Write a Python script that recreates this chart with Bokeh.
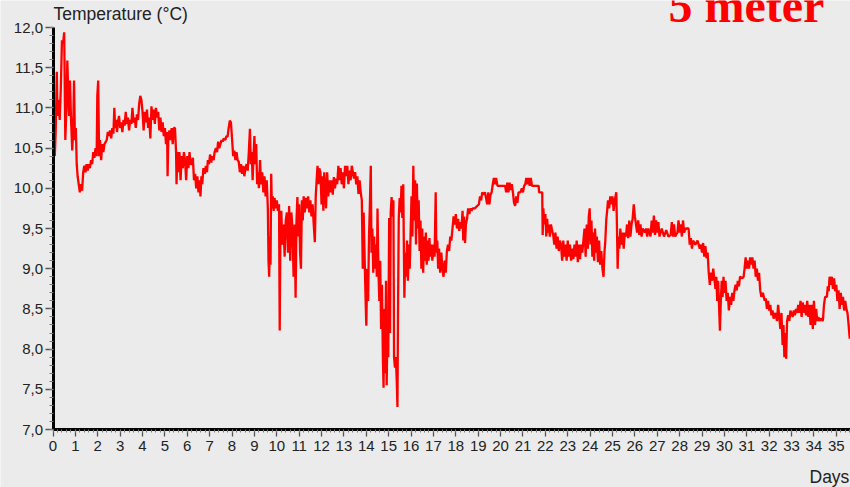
from bokeh.plotting import figure
from bokeh.models import Range1d, FixedTicker, CustomJSTickFormatter, LinearAxis
from bokeh.core.properties import value
from bokeh.embed import file_html
from bokeh.resources import INLINE

# ---- data (days since start, water temperature at 5 m, degC) ----
days_a = [0.00, 0.04, 0.08, 0.12, 0.17, 0.20, 0.25, 0.30, 0.35, 0.40, 0.45, 0.50, 0.55, 0.60, 0.64, 0.68, 0.72, 0.76, 0.80, 0.86,
          0.90, 0.94, 0.98, 1.02, 1.06, 1.10, 1.15, 1.20, 1.25, 1.30, 1.35, 1.40, 1.45, 1.50, 1.55, 1.60, 1.65, 1.70, 1.75, 1.80,
          1.85, 1.90, 1.95, 1.98, 2.02, 2.06, 2.10, 2.15, 2.20, 2.25, 2.30, 2.40, 2.45]
temp_a = [10.20, 10.75, 10.40, 10.70, 11.45, 10.90, 11.10, 10.85, 11.25, 11.84, 11.80, 11.94, 10.60, 11.00, 11.59, 11.20, 10.90, 11.34, 10.90, 10.47,
          10.70, 11.34, 10.60, 10.75, 10.30, 10.15, 10.05, 9.95, 10.05, 9.97, 10.20, 10.28, 10.20, 10.30, 10.22, 10.30, 10.25, 10.35, 10.30, 10.45,
          10.38, 10.50, 10.40, 11.15, 11.34, 10.40, 10.60, 10.35, 10.55, 10.45, 10.55, 10.60, 10.70]

days_b = [2.50, 2.55, 2.60, 2.65, 2.70, 2.74, 2.78, 2.82, 2.86, 2.90, 2.95, 3.00, 3.05, 3.10, 3.15, 3.20, 3.25, 3.30, 3.35, 3.40,
          3.45, 3.50, 3.55, 3.60, 3.65, 3.70, 3.75, 3.80, 3.85, 3.90, 3.95, 4.00, 4.05, 4.10, 4.15, 4.20, 4.25, 4.30, 4.35, 4.40,
          4.45, 4.50, 4.55, 4.60, 4.65, 4.70, 4.75, 4.80, 4.85, 4.90, 4.95, 5.00, 5.05, 5.10, 5.12, 5.15, 5.20, 5.25, 5.30, 5.35,
          5.40, 5.45, 5.50]
temp_b = [10.65, 10.72, 10.62, 10.75, 10.68, 11.00, 10.75, 10.85, 10.70, 10.82, 10.90, 10.75, 10.82, 10.70, 10.85, 10.78, 10.95, 10.80, 10.88, 10.72,
          10.85, 10.80, 11.00, 10.82, 10.88, 10.75, 10.92, 10.85, 11.05, 11.15, 11.10, 10.95, 10.72, 10.95, 10.82, 10.98, 10.75, 10.88, 10.62, 11.02,
          10.85, 10.98, 10.80, 11.00, 10.88, 10.95, 10.72, 10.88, 10.70, 10.82, 10.65, 10.75, 10.55, 10.70, 10.15, 10.60, 10.72, 10.60, 10.75, 10.55,
          10.75, 10.75, 10.45]

days_c = [5.52, 5.56, 5.60, 5.65, 5.70, 5.75, 5.80, 5.85, 5.90, 5.95, 6.00, 6.05, 6.10, 6.15, 6.20, 6.25, 6.30, 6.35, 6.40, 6.45,
          6.50, 6.55, 6.59, 6.63, 6.67, 6.72, 6.78, 6.83, 6.88, 6.92, 6.97, 7.02, 7.07, 7.12, 7.18, 7.22, 7.28, 7.33, 7.38, 7.43,
          7.48, 7.53, 7.58, 7.63, 7.70, 7.75, 7.80, 7.85, 7.90, 7.95, 8.00, 8.05, 8.10, 8.15, 8.20, 8.25, 8.30, 8.35, 8.40, 8.45,
          8.50, 8.55, 8.60, 8.65, 8.70, 8.75, 8.80, 8.84, 8.88, 8.92, 8.96]
temp_c = [10.05, 10.45, 10.20, 10.45, 10.10, 10.40, 10.25, 10.45, 10.35, 10.10, 10.40, 10.25, 10.45, 10.30, 10.30, 10.38, 10.10, 10.18, 10.00, 10.15,
          9.95, 10.10, 9.90, 10.15, 10.05, 10.25, 10.18, 10.28, 10.20, 10.35, 10.30, 10.42, 10.32, 10.40, 10.35, 10.45, 10.50, 10.45, 10.58, 10.50,
          10.55, 10.60, 10.58, 10.62, 10.60, 10.65, 10.64, 10.75, 10.84, 10.82, 10.62, 10.40, 10.47, 10.35, 10.45, 10.35, 10.33, 10.20, 10.30, 10.18,
          10.28, 10.15, 10.25, 10.30, 10.22, 10.45, 10.74, 10.30, 10.45, 10.10, 10.40]

days_d = [9.00, 9.04, 9.08, 9.12, 9.16, 9.20, 9.25, 9.30, 9.35, 9.40, 9.45, 9.50, 9.55, 9.60, 9.63, 9.66, 9.69, 9.72, 9.75, 9.78,
          9.82, 9.86, 9.90, 9.95, 10.00, 10.05, 10.10, 10.13, 10.16, 10.20, 10.25, 10.30, 10.35, 10.40, 10.45, 10.50, 10.55, 10.60, 10.65, 10.70,
          10.75, 10.80, 10.84, 10.88, 10.92, 10.96, 11.00, 11.04, 11.08, 11.12, 11.16, 11.20, 11.25, 11.30, 11.35, 11.40, 11.45, 11.50, 11.55, 11.60,
          11.65, 11.70, 11.74, 11.78, 11.82, 11.86, 11.90, 11.95]
temp_d = [10.65, 10.30, 10.55, 10.05, 10.20, 10.00, 10.35, 10.05, 10.20, 9.95, 10.15, 9.90, 10.10, 9.75, 9.10, 8.90, 9.40, 9.05, 10.18, 9.75,
          9.90, 9.72, 9.88, 9.75, 9.85, 9.72, 9.80, 8.23, 9.40, 9.72, 9.30, 9.55, 9.15, 9.60, 9.70, 9.20, 9.78, 9.10, 9.70, 9.50,
          8.90, 9.55, 8.64, 9.60, 9.89, 9.40, 9.80, 9.20, 9.00, 9.85, 9.60, 9.90, 9.70, 9.88, 9.75, 9.90, 9.70, 9.85, 9.65, 9.80,
          9.55, 9.33, 9.90, 10.10, 10.28, 10.05, 10.25, 10.20]

days_e = [12.00, 12.04, 12.08, 12.12, 12.16, 12.20, 12.25, 12.30, 12.35, 12.40, 12.45, 12.50, 12.55, 12.60, 12.65, 12.70, 12.75, 12.80, 12.85, 12.90,
          12.95, 13.00, 13.05, 13.10, 13.15, 13.20, 13.25, 13.30, 13.35, 13.40, 13.45, 13.50, 13.55, 13.60, 13.65, 13.70, 13.75, 13.80]
temp_e = [9.80, 10.15, 9.72, 10.20, 10.00, 9.75, 10.20, 9.90, 10.10, 9.95, 10.10, 9.92, 10.14, 10.00, 10.12, 10.05, 10.28, 10.10, 10.25, 10.05,
          10.20, 10.00, 10.28, 10.15, 10.28, 10.05, 10.22, 10.10, 10.28, 10.20, 10.12, 10.20, 10.05, 10.15, 9.93, 10.10, 9.95, 9.85]

days_f = [13.84, 13.88, 13.92, 13.96, 14.00, 14.04, 14.08, 14.12, 14.16, 14.20, 14.23, 14.27, 14.31, 14.35, 14.39, 14.43, 14.47, 14.50, 14.54, 14.58,
          14.62, 14.66, 14.70, 14.74, 14.77, 14.80, 14.84, 14.88, 14.91, 14.95, 14.98, 15.02, 15.06, 15.09, 15.13, 15.17, 15.21, 15.24, 15.28, 15.32,
          15.36, 15.39, 15.42, 15.45, 15.49, 15.53, 15.57, 15.61, 15.65, 15.70, 15.74, 15.78, 15.82, 15.86, 15.90, 15.94, 15.98, 16.02, 16.06, 16.10,
          16.14, 16.18, 16.22, 16.26, 16.30, 16.34, 16.38, 16.42, 16.46, 16.50, 16.54, 16.58, 16.62, 16.66, 16.70, 16.74, 16.78, 16.82, 16.86, 16.90,
          16.95, 17.00, 17.05, 17.10, 17.13, 17.17, 17.21, 17.25, 17.30, 17.35, 17.40, 17.45, 17.50, 17.55, 17.60]
temp_f = [9.00, 9.70, 9.20, 8.70, 8.29, 9.00, 8.60, 9.40, 9.80, 10.28, 9.20, 9.50, 8.95, 9.40, 9.00, 9.30, 8.90, 9.75, 9.00, 8.60,
          9.10, 8.25, 8.80, 7.90, 7.52, 8.50, 7.70, 8.85, 7.55, 8.40, 7.90, 9.63, 8.20, 9.70, 9.89, 9.65, 9.85, 7.90, 7.77, 7.90,
          7.60, 7.28, 8.60, 9.63, 9.88, 9.70, 10.03, 9.63, 10.05, 8.64, 9.20, 8.90, 9.35, 8.85, 9.30, 9.00, 9.45, 9.90, 9.40, 10.28,
          9.60, 10.10, 9.30, 10.06, 9.50, 9.85, 9.22, 9.60, 9.00, 9.50, 8.95, 9.40, 9.10, 9.45, 9.05, 9.35, 9.10, 9.38, 9.15, 9.30,
          9.10, 9.30, 9.15, 9.95, 9.20, 9.35, 9.00, 9.25, 8.95, 9.20, 9.00, 8.90, 9.10, 8.95, 9.22]

days_g = [17.65, 17.70, 17.75, 17.80, 17.85, 17.90, 17.95, 18.00, 18.05, 18.10, 18.15, 18.20, 18.25, 18.30, 18.33, 18.37, 18.41, 18.45, 18.50, 18.55,
          18.60, 18.65, 18.70, 18.75, 18.85, 18.95, 19.03, 19.08, 19.13, 19.18, 19.25, 19.30, 19.35, 19.40, 19.45, 19.50, 19.55, 19.60, 19.65, 19.70,
          19.75, 19.80, 19.86, 20.00, 20.10, 20.20, 20.25, 20.30, 20.35, 20.40, 20.45, 20.50, 20.55, 20.60, 20.65, 20.70, 20.75, 20.80, 20.88, 20.95,
          21.00, 21.05, 21.10, 21.15, 21.20, 21.25, 21.30, 21.35, 21.40, 21.55, 21.70, 21.72, 21.86, 21.88, 21.91, 21.95, 22.00, 22.04, 22.08, 22.12,
          22.16, 22.20, 22.25, 22.30, 22.35, 22.40, 22.45, 22.50, 22.55, 22.60, 22.65, 22.70, 22.75, 22.80, 22.85, 22.90, 22.95, 23.00, 23.05, 23.10,
          23.15, 23.20, 23.25, 23.30, 23.35, 23.40, 23.45]
temp_g = [9.30, 9.22, 9.40, 9.35, 9.50, 9.65, 9.55, 9.68, 9.50, 9.62, 9.47, 9.58, 9.50, 9.72, 9.35, 9.65, 9.32, 9.55, 9.62, 9.75,
          9.68, 9.75, 9.72, 9.75, 9.75, 9.78, 9.80, 9.90, 9.85, 9.95, 9.92, 9.95, 9.88, 9.80, 9.95, 9.80, 9.92, 9.95, 10.05, 10.13,
          10.05, 10.13, 10.03, 10.03, 10.03, 10.03, 9.95, 10.07, 9.95, 10.07, 9.98, 10.05, 9.95, 9.82, 9.78, 9.90, 9.82, 9.95, 9.95, 10.00,
          9.95, 10.03, 10.05, 10.13, 10.05, 10.13, 10.03, 10.13, 10.03, 10.03, 10.03, 9.95, 9.95, 9.42, 9.75, 9.55, 9.68, 9.40, 9.62, 9.45,
          9.55, 9.40, 9.55, 9.48, 9.42, 9.30, 9.45, 9.25, 9.40, 9.22, 9.35, 9.30, 9.10, 9.35, 9.15, 9.30, 9.10, 9.35, 9.15, 9.30,
          9.10, 9.25, 9.12, 9.30, 9.15, 9.35, 9.08]

days_h = [23.50, 23.55, 23.60, 23.65, 23.70, 23.75, 23.80, 23.85, 23.90, 23.94, 23.98, 24.02, 24.06, 24.10, 24.14, 24.18, 24.22, 24.26, 24.30, 24.35,
          24.40, 24.45, 24.50, 24.55, 24.60, 24.64, 24.68, 24.72, 24.76, 24.80, 24.85, 24.90, 24.95, 25.00, 25.05, 25.10, 25.17, 25.20, 25.23, 25.27,
          25.31, 25.35, 25.40, 25.45, 25.50, 25.55, 25.60, 25.65, 25.70, 25.75, 25.80, 25.85, 25.90, 25.95, 26.00, 26.05, 26.10, 26.15, 26.20, 26.25,
          26.30, 26.35, 26.45, 26.50, 26.55, 26.60, 26.70, 26.75, 26.80, 26.85, 26.90, 26.95, 27.00, 27.05, 27.10, 27.20, 27.30, 27.40, 27.50, 27.60,
          27.65, 27.70, 27.75, 27.80, 27.90, 27.95, 28.00, 28.05, 28.10, 28.15, 28.20, 28.27, 28.40, 28.45, 28.50, 28.55, 28.60, 28.70, 28.80, 28.90,
          28.95, 29.00, 29.05, 29.10, 29.15, 29.20, 29.25, 29.30, 29.35]
temp_h = [9.30, 9.12, 9.30, 9.20, 9.35, 9.50, 9.15, 9.55, 9.25, 9.65, 9.75, 9.30, 9.60, 9.15, 9.45, 9.10, 9.50, 9.20, 9.40, 9.08,
          9.35, 9.05, 9.22, 9.00, 8.90, 9.20, 9.35, 9.60, 9.72, 9.85, 9.75, 9.90, 9.80, 9.90, 9.72, 9.85, 9.95, 9.50, 9.00, 9.40,
          9.25, 9.50, 9.30, 9.45, 9.25, 9.45, 9.40, 9.55, 9.38, 9.60, 9.40, 9.55, 9.62, 9.80, 9.65, 9.55, 9.45, 9.60, 9.42, 9.55,
          9.40, 9.50, 9.45, 9.50, 9.40, 9.50, 9.40, 9.60, 9.45, 9.66, 9.42, 9.60, 9.45, 9.58, 9.40, 9.50, 9.40, 9.48, 9.40, 9.42,
          9.58, 9.40, 9.55, 9.40, 9.45, 9.60, 9.45, 9.55, 9.40, 9.60, 9.45, 9.50, 9.50, 9.30, 9.38, 9.25, 9.35, 9.30, 9.35, 9.25,
          9.30, 9.20, 9.32, 9.15, 9.28, 9.13, 9.20, 8.95, 8.80]

days_i = [29.40, 29.45, 29.50, 29.55, 29.60, 29.64, 29.68, 29.72, 29.76, 29.80, 29.84, 29.88, 29.92, 29.96, 30.00, 30.05, 30.10, 30.15, 30.20, 30.25,
          30.30, 30.35, 30.40, 30.45, 30.50, 30.55, 30.60, 30.65, 30.70, 30.80, 30.86, 30.90, 30.95, 31.00, 31.05, 31.10, 31.15, 31.20, 31.25, 31.30,
          31.35, 31.40, 31.45, 31.50, 31.55, 31.60, 31.65, 31.72, 31.80, 31.85, 31.90, 31.95, 32.00, 32.05, 32.10, 32.15, 32.20, 32.28, 32.35, 32.40,
          32.45, 32.50, 32.55, 32.60, 32.64, 32.68, 32.72, 32.76, 32.80, 32.85, 32.90, 32.95, 33.05, 33.10, 33.15, 33.20, 33.25, 33.30, 33.35, 33.40,
          33.45, 33.50, 33.55, 33.60, 33.65, 33.70, 33.75, 33.80, 33.85, 33.90, 33.95, 34.00, 34.05, 34.10, 34.15, 34.20, 34.25, 34.30, 34.40, 34.45,
          34.50, 34.58, 34.62, 34.66, 34.70, 34.75, 34.80, 34.85, 34.90, 34.95, 35.00, 35.05, 35.10, 35.15, 35.20, 35.25, 35.30, 35.35, 35.40, 35.45,
          35.50, 35.55, 35.60]
temp_i = [8.95, 8.85, 9.00, 8.88, 8.75, 8.90, 8.60, 8.85, 8.55, 8.23, 8.60, 8.85, 8.65, 8.90, 8.70, 8.85, 8.60, 8.70, 8.48, 8.65,
          8.55, 8.70, 8.60, 8.73, 8.80, 8.73, 8.85, 8.78, 8.90, 8.88, 8.90, 9.00, 9.14, 9.00, 9.10, 9.00, 9.14, 9.05, 9.14, 9.00,
          9.10, 8.90, 9.00, 8.85, 8.95, 8.73, 8.65, 8.70, 8.60, 8.63, 8.50, 8.60, 8.48, 8.55, 8.42, 8.48, 8.38, 8.45, 8.35, 8.55,
          8.40, 8.25, 8.45, 8.05, 8.30, 7.90, 8.20, 7.88, 8.35, 8.42, 8.35, 8.48, 8.40, 8.48, 8.42, 8.50, 8.45, 8.55, 8.45, 8.60,
          8.40, 8.58, 8.45, 8.55, 8.42, 8.60, 8.40, 8.55, 8.30, 8.55, 8.25, 8.60, 8.30, 8.50, 8.35, 8.40, 8.35, 8.38, 8.35, 8.55,
          8.65, 8.65, 8.78, 8.72, 8.90, 8.80, 8.90, 8.75, 8.88, 8.72, 8.80, 8.60, 8.73, 8.50, 8.70, 8.55, 8.65, 8.48, 8.60, 8.50,
          8.45, 8.30, 8.13]

chunks = [(days_a, temp_a), (days_b, temp_b), (days_c, temp_c), (days_d, temp_d), (days_e, temp_e),
          (days_f, temp_f), (days_g, temp_g), (days_h, temp_h), (days_i, temp_i)]
days, temps = [], []
for k, (d, t) in enumerate(chunks):
    assert len(d) == len(t), (k, len(d), len(t))
    days += d
    temps += t

x_ticks = list(range(0, 36))
y_ticks = [7.0, 7.5, 8.0, 8.5, 9.0, 9.5, 10.0, 10.5, 11.0, 11.5, 12.0]

title_text = "5 meter"
y_title = "Temperature (°C)"
x_title = "Days"

# ---- layout constants (pixel geometry of the frame) ----
BG = "#ebebeb"
W, H = 850, 487
PX_PER_DAY = 22.38
PX_PER_DEG = 80.4
X0_PX = 52.5          # pixel of day 0
Y12_PX = 27.0         # pixel of 12.0 degC
Y7_PX = Y12_PX + 5 * PX_PER_DEG
x_start = -X0_PX / PX_PER_DAY
x_end = (W - X0_PX) / PX_PER_DAY
y_end = 12.0 + Y12_PX / PX_PER_DEG
y_start = 7.0 - (H - Y7_PX) / PX_PER_DEG

p = figure(width=W, height=H, output_backend="svg", toolbar_location=None,
           x_range=Range1d(x_start, x_end), y_range=Range1d(y_start, y_end),
           x_axis_location=None, y_axis_location=None)
p.min_border = 0
p.min_border_left = 0
p.min_border_right = 0
p.min_border_top = 0
p.min_border_bottom = 0
p.background_fill_color = BG
p.border_fill_color = BG
p.outline_line_color = None
p.grid.visible = False

p.line(days, temps, line_color="#ff0000", line_width=2.3)

x_minor = [i * 0.2 for i in range(0, int(x_end / 0.2) + 1)]
y_minor = [7.0 + i * 0.1 for i in range(0, 51)]

xa = LinearAxis(fixed_location=7.0)
xa.ticker = FixedTicker(ticks=x_ticks, minor_ticks=x_minor)
xa.bounds = (0, x_end)
ya = LinearAxis(fixed_location=0)
ya.ticker = FixedTicker(ticks=y_ticks, minor_ticks=y_minor)
ya.formatter = CustomJSTickFormatter(code="return tick.toFixed(1).replace('.', ',');")
ya.bounds = (7.0, 12.0)

for ax in (xa, ya):
    ax.axis_line_color = "black"
    ax.axis_line_width = 3
    ax.major_tick_in = 0
    ax.minor_tick_in = 0
    ax.major_tick_line_color = "#555555"
    ax.minor_tick_line_color = "#7a7a7a"
    ax.major_tick_line_width = 1.3
    ax.minor_tick_line_width = 1
    ax.major_label_text_font = "Liberation Sans"
    ax.major_label_text_font_size = "15px"
    ax.major_label_text_color = "#222222"
xa.major_tick_out = 7
xa.minor_tick_out = 3
xa.major_label_standoff = 4
ya.major_tick_out = 8
ya.minor_tick_out = 4
ya.major_label_standoff = 2
p.add_layout(xa, "below")
p.add_layout(ya, "left")

# texts as glyphs, positioned in data space
p.text(x=[(53 - X0_PX) / PX_PER_DAY], y=[12.0 + (Y12_PX - 13) / PX_PER_DEG], text=[y_title],
       text_font=value("Liberation Sans"), text_font_size="17.5px", text_color="#222222",
       text_align="left", text_baseline="middle")
p.text(x=[(809 - X0_PX) / PX_PER_DAY], y=[7.0 - (476 - Y7_PX) / PX_PER_DEG], text=[x_title],
       text_font=value("Liberation Sans"), text_font_size="17.5px", text_color="#222222",
       text_align="left", text_baseline="middle")
p.text(x=[(668 - X0_PX) / PX_PER_DAY], y=[12.0 + (Y12_PX - 5.0) / PX_PER_DEG], text=[title_text],
       text_font=value("Liberation Serif"), text_font_size="48px", text_font_style="bold",
       text_color="#ff0000", text_align="left", text_baseline="alphabetic")

open("out.html", "w").write(file_html(p, INLINE))
